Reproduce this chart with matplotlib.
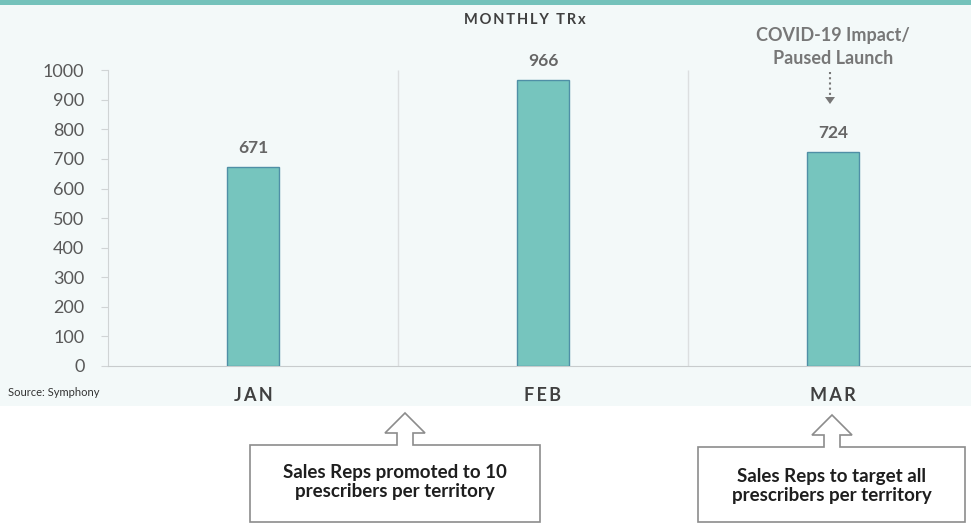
import matplotlib
matplotlib.use("Agg")
import matplotlib.pyplot as plt
from matplotlib.patches import Rectangle, Polygon

# datos del gráfico
meses = ["JAN", "FEB", "MAR"]
trx = [671, 966, 724]
ticks_y = [0, 100, 200, 300, 400, 500, 600, 700, 800, 900, 1000]

plt.rcParams['font.family'] = ['Lato', 'DejaVu Sans']

W, H = 971, 525
fig = plt.figure(figsize=(W / 100, H / 100), dpi=100, facecolor='white')


def px(x, y):
    # convierte píxeles (origen arriba-izquierda) a fracción de figura
    return x / W, 1 - y / H


# fondo claro y franja superior
fig.patches.append(Rectangle(px(0, 406), 1, 401 / H, transform=fig.transFigure,
                             facecolor='#f3f9f9', edgecolor='none', zorder=0))
fig.patches.append(Rectangle(px(0, 5), 1, 5 / H, transform=fig.transFigure,
                             facecolor='#74c2bb', edgecolor='none', zorder=0))

ax = fig.add_axes([108 / W, 1 - 366 / H, 870 / W, 355 / H])
ax.set_facecolor('none')
ax.set_zorder(1)

x = list(range(len(meses)))
ax.bar(x, trx, width=0.18, color='#76c5be', edgecolor='#4f8fa6', linewidth=1, zorder=3)

for i, v in enumerate(trx):
    ax.annotate(str(v), (i, v), xytext=(0, 8), textcoords='offset points',
                ha='center', va='bottom', fontsize=12.5, fontweight='bold', color='#666666')

# separadores entre categorías
ax.vlines([0.5, 1.5], 0, 1000, color='#dcdfe0', linewidth=1, zorder=1)

ax.set_xlim(-0.5, 2.5)
ax.set_ylim(0, 1200)
ax.set_yticks(ticks_y)
ax.set_yticklabels([str(t) for t in ticks_y], fontsize=13, color='#595959')
ax.set_xticks(x)
ax.set_xticklabels(["\u2009".join(m) for m in meses], fontsize=13, fontweight='bold', color='#404040')
ax.tick_params(axis='x', length=0, pad=15)
ax.tick_params(axis='y', length=5, color='#d0d4d5', pad=12)

for s in ['top', 'right']:
    ax.spines[s].set_visible(False)
ax.spines['left'].set_bounds(0, 1000)
ax.spines['left'].set_color('#d0d4d5')
ax.spines['bottom'].set_color('#c8cccd')

# títulos y notas
fig.text(*px(525, 20), "M\u2009O\u2009N\u2009T\u2009H\u2009L\u2009Y\u2009 \u2009T\u2009R\u2009x", ha='center', va='center',
         fontsize=10.5, fontweight='bold', color='#404040', zorder=3)
fig.text(*px(8, 393), "Source: Symphony", ha='left', va='center', fontsize=8, color='#333333', zorder=3)
fig.text(*px(833, 35), "COVID-19 Impact/", ha='center', va='center', fontsize=13, fontweight='bold',
         color='#777777', zorder=3)
fig.text(*px(833, 58), "Paused Launch", ha='center', va='center', fontsize=13, fontweight='bold',
         color='#777777', zorder=3)
fig.add_artist(plt.Line2D([830 / W, 830 / W], [1 - 72 / H, 1 - 98 / H], transform=fig.transFigure,
                          color='#777777', linestyle=(0, (1, 1.5)), linewidth=1.5, zorder=3))
fig.patches.append(Polygon([px(825, 97), px(835, 97), px(830, 104)], closed=True,
                           transform=fig.transFigure, facecolor='#777777', edgecolor='none', zorder=3))


def caja(x0, x1, y0, y1, cx, tip, base, texto, ty):
    pts = [(x0, y0), (cx - 8, y0), (cx - 8, base), (cx - 20, base), (cx, tip),
           (cx + 20, base), (cx + 8, base), (cx + 8, y0), (x1, y0), (x1, y1), (x0, y1)]
    fig.patches.append(Polygon([px(a, b) for a, b in pts], closed=True, transform=fig.transFigure,
                               facecolor='white', edgecolor='#8c8c8c', linewidth=1.2, zorder=2))
    fig.text(*px((x0 + x1) / 2, ty), texto, ha='center', va='center', fontsize=13.5,
             fontweight='bold', color='#1e1e1e', linespacing=1.2, zorder=3)


caja(250, 540, 445, 522, 405, 413, 433, "Sales Reps promoted to 10\nprescribers per territory", 482)
caja(698, 965, 447, 522, 832, 415, 435, "Sales Reps to target all\nprescribers per territory", 486)

fig.savefig("out.png", dpi=100, facecolor=fig.get_facecolor())
